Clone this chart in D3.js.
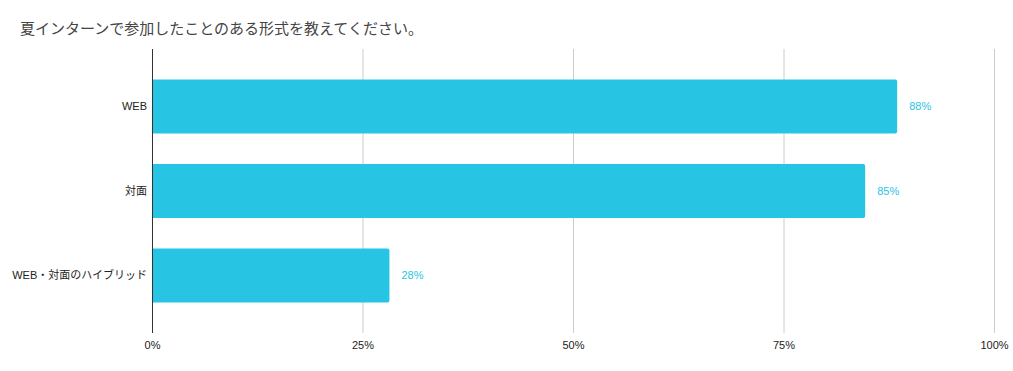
<!DOCTYPE html>
<html><head><meta charset="utf-8">
<script src="https://cdn.jsdelivr.net/npm/d3@7"></script>
<style>
body{margin:0;background:#fff;}
text{font-family:"Liberation Sans","Noto Sans CJK JP",Arial,sans-serif;}
</style></head>
<body><svg id="c" width="1013" height="371"></svg>
<script>
const title = "夏インターンで参加したことのある形式を教えてください。";
const categories = ["WEB", "対面", "WEB・対面のハイブリッド"];
const values = [88.5, 84.7, 28.2];
const valueLabels = ["88%", "85%", "28%"];
const tickValues = [0, 25, 50, 75, 100];
const tickLabels = ["0%", "25%", "50%", "75%", "100%"];

const svg = d3.select("#c");
const m = {left:152, right:1013-994, top:49, bottom:371-333};
const W = 1013, H = 371;
const x = d3.scaleLinear().domain([0,100]).range([m.left, W-m.right]);
const y = d3.scaleBand().domain(categories).range([m.top, H-m.bottom]).paddingInner(0.36).paddingOuter(0.36);

svg.append("text").attr("x",20).attr("y",34).attr("font-size",15).attr("fill","#444").text(title);

// grid
svg.append("g").selectAll("line").data(tickValues.filter(d=>d>0)).join("line")
  .attr("x1",d=>x(d)+0.5).attr("x2",d=>x(d)+0.5).attr("y1",m.top).attr("y2",H-m.bottom)
  .attr("stroke","#ccc").attr("stroke-width",1);

// bars
svg.append("g").selectAll("path").data(categories).join("path")
  .attr("fill","#27c5e3")
  .attr("d",(d,i)=>{
    const x0=x(0), x1=x(values[i]), y0=y(d), h=y.bandwidth(), r=2;
    return `M${x0},${y0}H${x1-r}Q${x1},${y0} ${x1},${y0+r}V${y0+h-r}Q${x1},${y0+h} ${x1-r},${y0+h}H${x0}Z`;
  });

// value labels
svg.append("g").selectAll("text").data(categories).join("text")
  .attr("x",(d,i)=>x(values[i])+12).attr("y",d=>y(d)+y.bandwidth()/2)
  .attr("dy","0.35em").attr("font-size",11).attr("fill","#27c5e3")
  .text((d,i)=>valueLabels[i]);

// y axis
const ya = svg.append("g").attr("transform",`translate(${x(0)},0)`)
  .call(d3.axisLeft(y).tickSize(0).tickPadding(5));
ya.select(".domain").remove();
ya.selectAll("text").attr("font-size",11).attr("fill","#222").attr("font-family",null);
svg.append("line").attr("x1",x(0)+0.5).attr("x2",x(0)+0.5).attr("y1",m.top).attr("y2",H-m.bottom)
  .attr("stroke","#333").attr("stroke-width",1);

// x axis
const xa = svg.append("g").attr("transform",`translate(0,${H-m.bottom})`)
  .call(d3.axisBottom(x).tickValues(tickValues).tickFormat((d,i)=>tickLabels[i]).tickSize(0).tickPadding(8));
xa.select(".domain").remove();
xa.selectAll("text").attr("font-size",11).attr("fill","#222").attr("font-family",null);
</script></body></html>
